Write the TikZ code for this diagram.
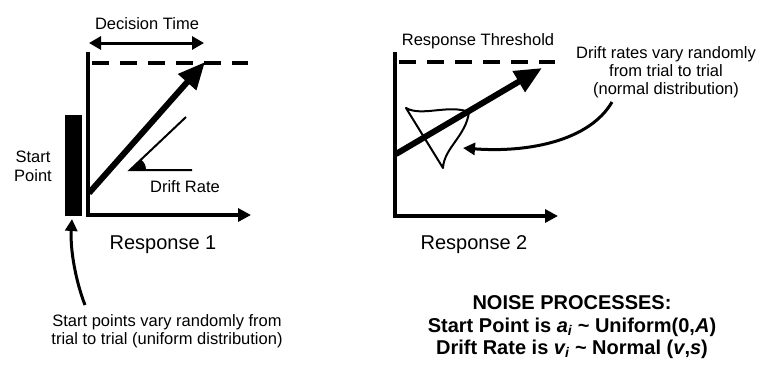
\documentclass[tikz,border=0pt]{standalone}
\usepackage{fontspec}
\setmainfont{Liberation Sans}
\usetikzlibrary{arrows.meta}
\begin{document}
\begin{tikzpicture}[x=1pt,y=-1pt,
  axisline/.style={line width=3.5pt, line join=miter, -{Triangle[length=13pt,width=13pt]}},
  thr/.style={line width=4pt, dash pattern=on 17pt off 11pt},
  bigarrow/.style={line width=6pt, -{Triangle[length=27pt,width=23pt]}},
  dtarrow/.style={line width=3pt, {Triangle[length=12pt,width=13pt]}-{Triangle[length=12pt,width=13pt]}},
  curvearrow/.style={line width=3pt, -{Triangle[length=12pt,width=12pt]}},
  thin/.style={line width=2pt},
  lbl/.style={inner sep=0pt, font=\fontsize{16.5}{18.3}\selectfont, align=center},
  biglbl/.style={inner sep=0pt, font=\fontsize{20}{22}\selectfont},
  noiselbl/.style={inner sep=0pt, font=\fontsize{20}{22.5}\selectfont\bfseries, align=center}]
\path[use as bounding box] (0,0) rectangle (763,376);

% ---------- left panel ----------
\coordinate (ya) at (88,52);
\coordinate (oa) at (88,215);
\coordinate (xa) at (251,215);
\draw[axisline] (ya) -- (oa) -- (xa);
\coordinate (d1a) at (92,63);
\coordinate (d1b) at (248,63);
\draw[thr] (d1a) -- (d1b);
\coordinate (dta) at (89,43);
\coordinate (dtb) at (204,43);
\draw[dtarrow] (dta) -- (dtb);
\node[lbl, anchor=base] (dt) at (147,29) {Decision Time};

\fill (65,115) rectangle (82,216);
\node[lbl, anchor=north] (sp) at (33,151) {Start\\Point};

\coordinate (s1) at (89,193);
\coordinate (t1) at (205,62);
\draw[bigarrow] (s1) -- (t1);

\coordinate (dv) at (130,170);
\coordinate (dh) at (192,170);
\coordinate (dd) at (186,117);
\draw[thin] (dh) -- (dv) -- (dd);
\fill (dv) -- (146,170) .. controls (146,165) and (144,162) .. (141,159.6) -- cycle;
\node[lbl, anchor=base] (drl) at (185,192) {Drift Rate};

\node[biglbl, anchor=base] (r1) at (163,249) {Response 1};

\coordinate (c1s) at (85,305);
\coordinate (c1e) at (72,219);
\draw[curvearrow] (c1s) .. controls (76,282) and (70,250) .. (c1e);
\node[lbl, anchor=north] (spv) at (167,314) {Start points vary randomly from\\trial to trial (uniform distribution)};

% ---------- right panel ----------
\coordinate (yb) at (395,52);
\coordinate (ob) at (395,216);
\coordinate (xb) at (558,216);
\draw[axisline] (yb) -- (ob) -- (xb);
\coordinate (d2a) at (399,62);
\coordinate (d2b) at (555,62);
\draw[thr] (d2a) -- (d2b);
\node[lbl, anchor=base] (rt) at (478,45) {Response Threshold};

\coordinate (s2) at (396,154);
\coordinate (t2) at (542,68);
\draw[bigarrow] (s2) -- (t2);

\draw[thin, line join=round] (406,108) .. controls (422,117) and (448,104) .. (469,112)
  .. controls (466,136) and (444,148) .. (443,168) -- cycle;

\node[lbl, anchor=north] (drv) at (666,46) {Drift rates vary randomly\\from trial to trial\\(normal distribution)};
\coordinate (c2s) at (612,102);
\coordinate (c2e) at (463,148);
\draw[curvearrow] (c2s) .. controls (590,140) and (530,153) .. (c2e);

\node[biglbl, anchor=base] (r2) at (474,249) {Response 2};

\node[noiselbl, anchor=north] (noise) at (572,295.5) {NOISE PROCESSES:\\
  Start Point is {\itshape a}\textsubscript{\itshape i} \textasciitilde{} Uniform(0,{\itshape A})\\
  Drift Rate is {\itshape v}\textsubscript{\itshape i} \textasciitilde{} Normal ({\itshape v},{\itshape s})};
\end{tikzpicture}
\end{document}
